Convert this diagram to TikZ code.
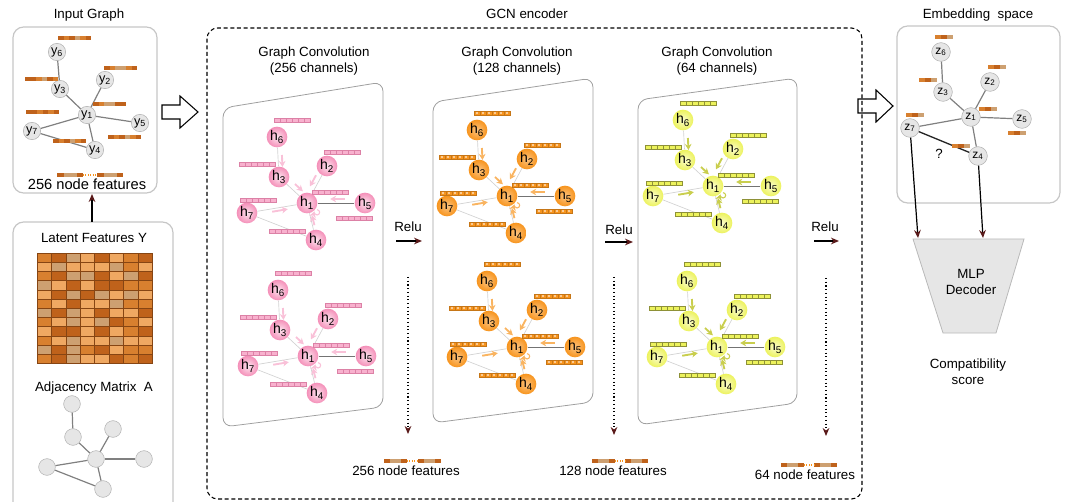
\documentclass[tikz,border=0pt]{standalone}
\usepackage{fontspec}
\setmainfont{Liberation Sans}
\usetikzlibrary{arrows.meta,calc}

\definecolor{pinkc}{HTML}{F48FB8}
\definecolor{pinkl}{HTML}{FDE3EE}
\definecolor{orangec}{HTML}{F7941D}
\definecolor{orangel}{HTML}{FBC27E}
\definecolor{yellowc}{HTML}{ECF25C}
\definecolor{yellowl}{HTML}{FAFCCB}
\definecolor{bd}{HTML}{BF621B}
\definecolor{bm}{HTML}{D8802F}
\definecolor{bl}{HTML}{EFA862}
\definecolor{bt}{HTML}{CDA071}
\definecolor{nodegray}{HTML}{E6E6E6}
\definecolor{tipred}{HTML}{5A1A1A}

% one feature vector of equal cells, centred on #1
\newcommand{\featbar}[3]{%
  \begin{scope}[shift={#1}]
    \foreach \k in {1,...,#2}
      \path[#3] ({(\k-1-#2/2)*6},-2.2) rectangle ++(6,4.4);
  \end{scope}}

% one feature vector of coloured cells, left end at #1
\newcommand{\colbar}[3]{%
  \begin{scope}[shift={#1}]
    \foreach \c [count=\k] in {#3}
      \fill[\c] ({(\k-1)*#2},-2.2) rectangle ++(#2,4.4);
  \end{scope}}

% one graph of a convolution layer, h1 at #2
\newcommand{\gcngraph}[5]{%
  \begin{scope}[shift={#2}]
    \node[#3] (#1h1) at (0,0) {h\textsubscript{1}};
    \node[#3] (#1h2) at (20,-37) {h\textsubscript{2}};
    \node[#3] (#1h3) at (-28,-26) {h\textsubscript{3}};
    \node[#3] (#1h4) at (9,37) {h\textsubscript{4}};
    \node[#3] (#1h5) at (58,0) {h\textsubscript{5}};
    \node[#3] (#1h6) at (-30,-66) {h\textsubscript{6}};
    \node[#3] (#1h7) at (-60,10) {h\textsubscript{7}};
    % graph edges
    \draw[gedge] (#1h6) -- (#1h3);
    \draw[gedge] (#1h3) -- (#1h1);
    \draw[gedge] (#1h2) -- (#1h1);
    \draw[gedge] (#1h7) -- (#1h1);
    \draw[gedge] (#1h7) -- (#1h4);
    \draw[gedge] (#1h4) -- (#1h1);
    \draw[hedge] (#1h1) -- (#1h5);
    % feature vectors
    \featbar{(-15,-83)}{6}{#4}
    \featbar{(-50,-39)}{6}{#4}
    \featbar{(35,-51)}{6}{#4}
    \featbar{(23,-11)}{6}{#4}
    \featbar{(47,15)}{6}{#4}
    \featbar{(-49,-3)}{6}{#4}
    \featbar{(-20,28)}{6}{#4}
  \end{scope}
  % messages towards h1
  \draw[#5] ([xshift=3pt]$(#1h6)!0.45!(#1h3)$) -- ([xshift=3pt]$(#1h6)!0.75!(#1h3)$);
  \draw[#5] ([xshift=1.5pt,yshift=4.5pt]$(#1h3)!0.5!(#1h1)$) -- ([xshift=1.5pt,yshift=4.5pt]$(#1h3)!0.78!(#1h1)$);
  \draw[#5] ([xshift=-4.5pt]$(#1h2)!0.25!(#1h1)$) -- ([xshift=-4.5pt]$(#1h2)!0.55!(#1h1)$);
  \draw[#5] ([yshift=3pt]$(#1h5)!0.35!(#1h1)$) -- ([yshift=3pt]$(#1h5)!0.6!(#1h1)$);
  \draw[#5] ([yshift=-2.2pt]$(#1h7)!0.42!(#1h1)$) -- ([yshift=-2.2pt]$(#1h7)!0.68!(#1h1)$);
  \draw[#5] ([xshift=1.5pt]$(#1h4)!0.4!(#1h1)$) -- ([xshift=1.5pt]$(#1h4)!0.67!(#1h1)$);
  \draw[#5, line width=0.8pt] ([xshift=7.5pt,yshift=-5pt]#1h1.center) arc[start angle=90, end angle=-200, radius=2pt];
}

\begin{document}
\begin{tikzpicture}
  [x=0.75pt, y=-0.75pt, font=\fontsize{10}{12}\selectfont,
   panelbox/.style={draw=gray!45, line width=0.9pt, rounded corners=8},
   layerbox/.style={draw=gray!75, line width=0.6pt, rounded corners=7},
   ynode/.style={circle, draw=gray!60, fill=nodegray, minimum size=13pt, inner sep=0pt, font=\fontsize{9.5}{10}\selectfont},
   anode/.style={circle, draw=gray!60, fill=nodegray, minimum size=12.5pt, inner sep=0pt},
   znode/.style={circle, draw=gray!60, fill=nodegray, minimum size=14pt, inner sep=0pt, font=\fontsize{9}{10}\selectfont},
   pinknode/.style={circle, minimum size=15.5pt, inner sep=0pt, inner color=pinkl, outer color=pinkc, font=\fontsize{10.5}{11}\selectfont},
   orangenode/.style={circle, minimum size=15.5pt, inner sep=0pt, inner color=orangel, outer color=orangec, font=\fontsize{10.5}{11}\selectfont},
   yellownode/.style={circle, minimum size=15.5pt, inner sep=0pt, inner color=yellowl, outer color=yellowc, font=\fontsize{10.5}{11}\selectfont},
   pinkcell/.style={fill=pinkl!40!pinkc, draw=pinkc!90!black, line width=0.35pt},
   orangecell/.style={fill=orangec, draw=orangec!80!black, line width=0.3pt,
     path picture={\fill[orangel!50!white] (path picture bounding box.center) circle (0.9pt);}},
   yellowcell/.style={fill=yellowc, draw=yellowc!60!black, line width=0.35pt},
   pinkmsg/.style={draw=pinkc!55, line width=1.4pt, -{Stealth[length=4.5pt,width=5pt]}},
   orangemsg/.style={draw=orangec!70, line width=1.4pt, -{Stealth[length=4.5pt,width=5pt]}},
   yellowmsg/.style={draw=yellowc!85!black, line width=1.4pt, -{Stealth[length=4.5pt,width=5pt]}},
   gedge/.style={draw=gray!35, line width=0.5pt},
   hedge/.style={draw=gray!90!black, line width=0.6pt},
   gray edge/.style={draw=gray, line width=0.9pt},
   fwd/.style={black, line width=0.9pt, -{Stealth[length=6pt,width=5pt,color=tipred]}},
   down/.style={black, dotted, line width=0.8pt, -{Stealth[length=6pt,width=5pt,color=tipred]}},
   hollow/.style={draw=black, line width=0.8pt, fill=white, line join=miter}]

  \useasboundingbox (0,0) rectangle (1067,502);

  % ---------- input graph ----------
  \node at (89,15) {Input Graph};
  \draw[panelbox] (13,27) rectangle (157,193);
  \node[ynode] (y1) at (87,115) {y\textsubscript{1}};
  \node[ynode] (y2) at (105,80) {y\textsubscript{2}};
  \node[ynode] (y3) at (60,89) {y\textsubscript{3}};
  \node[ynode] (y4) at (95,150) {y\textsubscript{4}};
  \node[ynode] (y5) at (140,123) {y\textsubscript{5}};
  \node[ynode] (y6) at (57,52) {y\textsubscript{6}};
  \node[ynode] (y7) at (32,131) {y\textsubscript{7}};
  \draw[gray edge] (y6) -- (y3);
  \draw[gray edge] (y3) -- (y1);
  \draw[gray edge] (y2) -- (y1);
  \draw[gray edge] (y1) -- (y5);
  \draw[gray edge] (y1) -- (y7);
  \draw[gray edge] (y7) -- (y4);
  \draw[gray edge] (y1) -- (y4);
  \colbar{(58,38)}{5.5}{bd,bm,bd,bt,bm,bd}
  \colbar{(25,79)}{5.5}{bd,bd,bm,bt,bd,bm}
  \colbar{(104,68)}{5.5}{bd,bm,bt,bt,bm,bd}
  \colbar{(93,104)}{5.5}{bd,bm,bt,bt,bd,bd}
  \colbar{(26,112)}{5.5}{bd,bd,bm,bd,bm,bd}
  \colbar{(53,141)}{5.5}{bd,bm,bd,bt,bm,bd}
  \colbar{(108,137)}{5.5}{bd,bm,bd,bt,bm,bd}
  \colbar{(57,175)}{6.5}{bd,bt,bt,bd}
  \colbar{(97,175)}{6.5}{bd,bt,bt,bd}
  \draw[orangec, densely dotted, line width=0.8pt] (83,175) -- (97,175);
  \node[font=\fontsize{11}{13}\selectfont] (infeat) at (87,184) {256 node features};

  % ---------- latent features and adjacency ----------
  \draw[panelbox] (13,222) rectangle (173,514);
  \coordinate (lattop) at (92,222);
  \coordinate (inbot) at (92,194);
  \draw[fwd] (lattop) -- (inbot);
  \node at (94,238) {Latent Features Y};
  \foreach \row [count=\r] in {{m,d,t,l,d,l,m,d},{l,t,l,l,l,t,m,l},{m,d,t,t,d,l,t,d},{t,l,d,l,d,d,m,m},
      {l,d,t,d,t,l,t,l},{m,l,d,l,l,t,m,m},{t,d,t,l,d,l,l,d},{m,l,t,l,t,d,m,l},
      {l,d,d,l,d,l,m,d},{m,l,t,l,l,t,l,l},{t,d,t,m,d,l,m,m},{m,d,t,l,l,d,m,d}}
    \foreach \c [count=\k] in \row
      \draw[draw=bd!70!black, line width=0.25pt, fill=b\c] ({37+(\k-1)*14.4},{253+(\r-1)*9.2}) rectangle ++(14.4,9.2);
  \node at (94,388) {Adjacency Matrix\ \ A};
  \node[anode] (a1) at (96,459) {};
  \node[anode] (a2) at (72,404) {};
  \node[anode] (a3) at (73,437) {};
  \node[anode] (a4) at (113,429) {};
  \node[anode] (a5) at (144,459) {};
  \node[anode] (a6) at (47,467) {};
  \node[anode] (a7) at (103,489) {};
  \draw[gray edge] (a2) -- (a3);
  \draw[gray edge] (a3) -- (a1);
  \draw[gray edge] (a4) -- (a1);
  \draw[gray edge] (a1) -- (a5);
  \draw[gray edge] (a1) -- (a6);
  \draw[gray edge] (a6) -- (a7);
  \draw[gray edge] (a1) -- (a7);

  % hollow arrows
  \draw[hollow] (162,105) -- (180,105) -- (180,96) -- (198,112) -- (180,128) -- (180,119) -- (162,119) -- cycle;
  \draw[hollow] (858,99) -- (876,99) -- (876,90) -- (893,106) -- (876,122) -- (876,113) -- (858,113) -- cycle;

  % ---------- GCN encoder ----------
  \node at (527,14) {GCN encoder};
  \draw[densely dashed, line width=0.8pt, rounded corners=8] (207,28) rectangle (862,499);

  \node[align=center] (t1) at (314,61) {Graph Convolution\\(256 channels)};
  \node[align=center] (t2) at (517,61) {Graph Convolution\\(128 channels)};
  \node[align=center] (t3) at (717,61) {Graph Convolution\\(64 channels)};

  \draw[layerbox] (223,108) -- (383,82) -- (383,407) -- (223,427) -- cycle;
  \draw[layerbox] (433,102) -- (593,78) -- (593,402) -- (433,423) -- cycle;
  \draw[layerbox] (638,100) -- (797,78) -- (797,403) -- (638,425) -- cycle;

  \gcngraph{pa}{(307,203)}{pinknode}{pinkcell}{pinkmsg}
  \gcngraph{pb}{(308,356)}{pinknode}{pinkcell}{pinkmsg}
  \gcngraph{oa}{(507,196)}{orangenode}{orangecell}{orangemsg}
  \gcngraph{ob}{(517,347)}{orangenode}{orangecell}{orangemsg}
  \gcngraph{ya}{(713,186)}{yellownode}{yellowcell}{yellowmsg}
  \gcngraph{yb}{(717,347)}{yellownode}{yellowcell}{yellowmsg}

  % relu steps
  \node (relu1) at (408,227) {Relu};
  \node (relu2) at (619,230) {Relu};
  \node (relu3) at (825,227) {Relu};
  \coordinate (r1a) at (396,241); \coordinate (r1b) at (422,241);
  \coordinate (r2a) at (605,242); \coordinate (r2b) at (633,242);
  \coordinate (r3a) at (814,241); \coordinate (r3b) at (839,241);
  \draw[fwd] (r1a) -- (r1b);
  \draw[fwd] (r2a) -- (r2b);
  \draw[fwd] (r3a) -- (r3b);

  % outputs of each layer
  \coordinate (d1a) at (408,277); \coordinate (d1b) at (408,434);
  \coordinate (d2a) at (614,277); \coordinate (d2b) at (614,435);
  \coordinate (d3a) at (826,278); \coordinate (d3b) at (826,436);
  \draw[down] (d1a) -- (d1b);
  \draw[down] (d2a) -- (d2b);
  \draw[down] (d3a) -- (d3b);

  \colbar{(384,461)}{5.75}{bd,bt,bt,bd}
  \colbar{(418,461)}{5.75}{bd,bt,bt,bd}
  \draw[orangec, densely dotted, line width=0.8pt] (407,461) -- (418,461);
  \node (f256) at (406,471) {256 node features};
  \colbar{(592,461)}{5.75}{bd,bt,bt,bd}
  \colbar{(625,461)}{5.75}{bd,bt,bt,bd}
  \draw[orangec, densely dotted, line width=0.8pt] (615,461) -- (625,461);
  \node (f128) at (613,471) {128 node features};
  \colbar{(781,465)}{5.75}{bd,bt,bt,bd}
  \colbar{(814,465)}{5.75}{bd,bt,bt,bd}
  \draw[orangec, densely dotted, line width=0.8pt] (804,465) -- (814,465);
  \node (f64) at (805,475) {64 node features};

  % ---------- embedding space ----------
  \node at (978,15) {Embedding\ \ space};
  \draw[panelbox] (897,26) rectangle (1060,203);
  \node[znode] (z1) at (971,117) {z\textsubscript{1}};
  \node[znode] (z2) at (990,82) {z\textsubscript{2}};
  \node[znode] (z3) at (943,92) {z\textsubscript{3}};
  \node[znode] (z4) at (978,156) {z\textsubscript{4}};
  \node[znode] (z5) at (1022,119) {z\textsubscript{5}};
  \node[znode] (z6) at (941,52) {z\textsubscript{6}};
  \node[znode] (z7) at (910,128) {z\textsubscript{7}};
  \draw[gray edge] (z6) -- (z3);
  \draw[gray edge] (z3) -- (z1);
  \draw[gray edge] (z2) -- (z1);
  \draw[gray edge] (z1) -- (z5);
  \draw[gray edge] (z1) -- (z7);
  \draw[gray edge] (z1) -- (z4);
  \draw[black!85, line width=1pt] (z7) -- (z4);
  \node at (939,154) {?};
  \colbar{(935,37)}{6}{bm,bd,bt}
  \colbar{(919,80)}{6}{bm,bd,bt}
  \colbar{(988,67)}{6}{bm,bd,bt}
  \colbar{(979,109)}{6}{bm,bd,bt}
  \colbar{(906,115)}{6}{bm,bd,bt}
  \colbar{(952,146)}{6}{bm,bd,bt}
  \colbar{(1008,133)}{6}{bm,bd,bt}

  % ---------- decoder ----------
  \draw[fill=nodegray, draw=gray!55, line width=0.6pt] (913,239) -- (1024,239) -- (996,333) -- (943,333) -- cycle;
  \node[align=center] (dec) at (971,282) {MLP\\Decoder};
  \coordinate (decin1) at (918,238);
  \coordinate (decin2) at (983,238);
  \draw[fwd] (z7) -- (decin1);
  \draw[fwd] (z4) -- (decin2);
  \node[align=center] (score) at (968,372) {Compatibility\\score};
\end{tikzpicture}
\end{document}
